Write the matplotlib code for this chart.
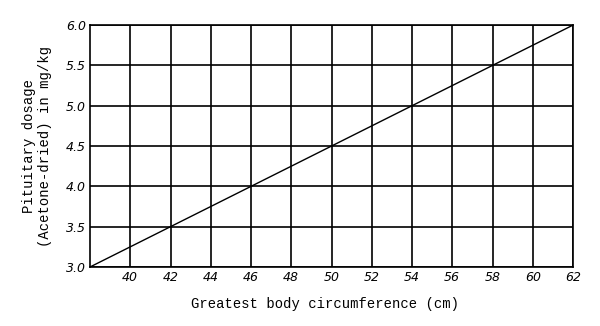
import matplotlib
matplotlib.use("Agg")
import matplotlib.pyplot as plt

circumference = [38, 62]
dosage = [3.0, 6.0]
x_ticks = [40, 42, 44, 46, 48, 50, 52, 54, 56, 58, 60, 62]
y_ticks = [3.0, 3.5, 4.0, 4.5, 5.0, 5.5, 6.0]

fig = plt.figure(figsize=(6.0, 3.26), dpi=100)
ax = fig.add_axes([0.15, 0.181, 0.805, 0.742])
ax.set_xlim(38, 62)
ax.set_ylim(3.0, 6.0)
ax.set_xticks(x_ticks)
ax.set_yticks(y_ticks)
ax.set_xticklabels([str(t) for t in x_ticks], fontstyle='italic', fontsize=9, family='DejaVu Sans')
ax.set_yticklabels([f"{t:.1f}" for t in y_ticks], fontstyle='italic', fontsize=9, family='DejaVu Sans')
ax.tick_params(length=0, pad=3)
ax.grid(True, color='black', linewidth=1.2)
for s in ax.spines.values():
    s.set_linewidth(1.2)
ax.plot(circumference, dosage, color='black', linewidth=1.0)
ax.set_xlabel("Greatest body circumference (cm)", family='Liberation Mono', fontsize=10, labelpad=9, x=0.486)
ax.set_ylabel("Pituitary dosage\n(Acetone-dried) in mg/kg", family='Liberation Mono', fontsize=10, labelpad=10, linespacing=1.2)
fig.savefig("out.png", dpi=100)
